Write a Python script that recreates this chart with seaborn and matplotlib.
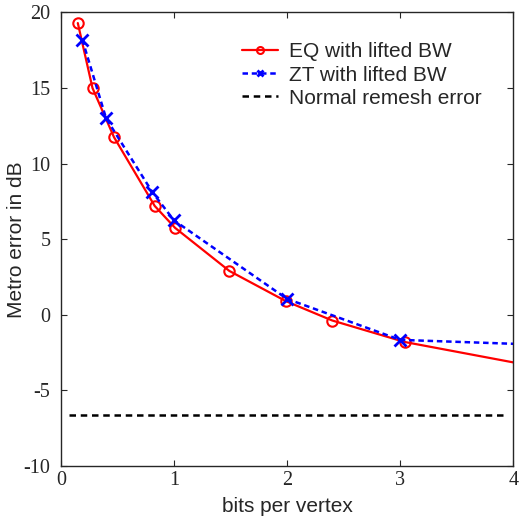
import numpy as np
import pandas as pd
import seaborn as sns
import matplotlib.pyplot as plt

# Date
eq_bits = [0.15, 0.28, 0.47, 0.83, 1.01, 1.49, 1.99, 2.40, 3.04, 4.0]
eq_err = [19.3, 15.0, 11.75, 7.2, 5.75, 2.9, 0.9, -0.38, -1.8, -3.15]

zt_bits = [0.19, 0.40, 0.81, 1.0, 2.0, 3.0, 4.0]
zt_err = [18.2, 13.0, 8.1, 6.25, 1.05, -1.66, -1.92]

normal_bits = [0.07, 3.91]
normal_err = [-6.6, -6.6]

sns.set_style("ticks")
plt.rcParams['font.family'] = ['Liberation Sans', 'DejaVu Sans']
plt.rcParams['axes.unicode_minus'] = False

df_eq = pd.DataFrame({"bits": eq_bits, "err": eq_err})
df_zt = pd.DataFrame({"bits": zt_bits, "err": zt_err})
df_nr = pd.DataFrame({"bits": normal_bits, "err": normal_err})

fig, ax = plt.subplots(figsize=(5.2, 5.2), dpi=100)
fig.subplots_adjust(left=0.117, right=0.987, bottom=0.104, top=0.976)

sns.lineplot(data=df_eq, x="bits", y="err", ax=ax, color="#ff0000", lw=1.6,
             marker="o", ms=7.5, mfc="none", mew=1.5, mec="#ff0000",
             markevery=list(range(len(eq_bits) - 1)), label="EQ with lifted BW")
sns.lineplot(data=df_zt, x="bits", y="err", ax=ax, color="#0000ff", lw=1.8,
             marker="x", ms=9, mew=2, mec="#0000ff",
             markevery=list(range(len(zt_bits) - 1)), label="ZT with lifted BW")
ax.lines[-1].set_dashes([2.2, 1.5])
sns.lineplot(data=df_nr, x="bits", y="err", ax=ax, color="black", lw=1.8,
             label="Normal remesh error")
ax.lines[-1].set_dashes([2.6, 1.9])

ax.set_xlim(0, 4)
ax.set_ylim(-10, 20)
ax.set_xticks([0, 1, 2, 3, 4])
ax.set_yticks([-10, -5, 0, 5, 10, 15, 20])
ax.tick_params(direction="in", top=True, right=True, length=4, width=0.8,
               labelsize=14.5)
ax.tick_params(axis="x", pad=3.5)
ax.tick_params(axis="y", pad=7.5)
for lab in ax.get_xticklabels() + ax.get_yticklabels():
    lab.set_family("Liberation Serif")
for s in ax.spines.values():
    s.set_linewidth(1.0)

ax.set_xlabel("bits per vertex", fontsize=15, labelpad=5)
ax.set_ylabel("Metro error in dB", fontsize=15, labelpad=-1.5)

leg = ax.legend(loc="upper left", bbox_to_anchor=(0.401, 0.934), frameon=False,
                fontsize=15, handlelength=1.7, handletextpad=0.55,
                labelspacing=0.2, borderaxespad=0, borderpad=0)
# markere mai mici in legenda, doar unul la mijloc
for h in leg.legend_handles:
    h.set_markersize(5)
    if len(h.get_xdata()) >= 3:
        h.set_markevery([1])

plt.savefig("out.png", dpi=100)
